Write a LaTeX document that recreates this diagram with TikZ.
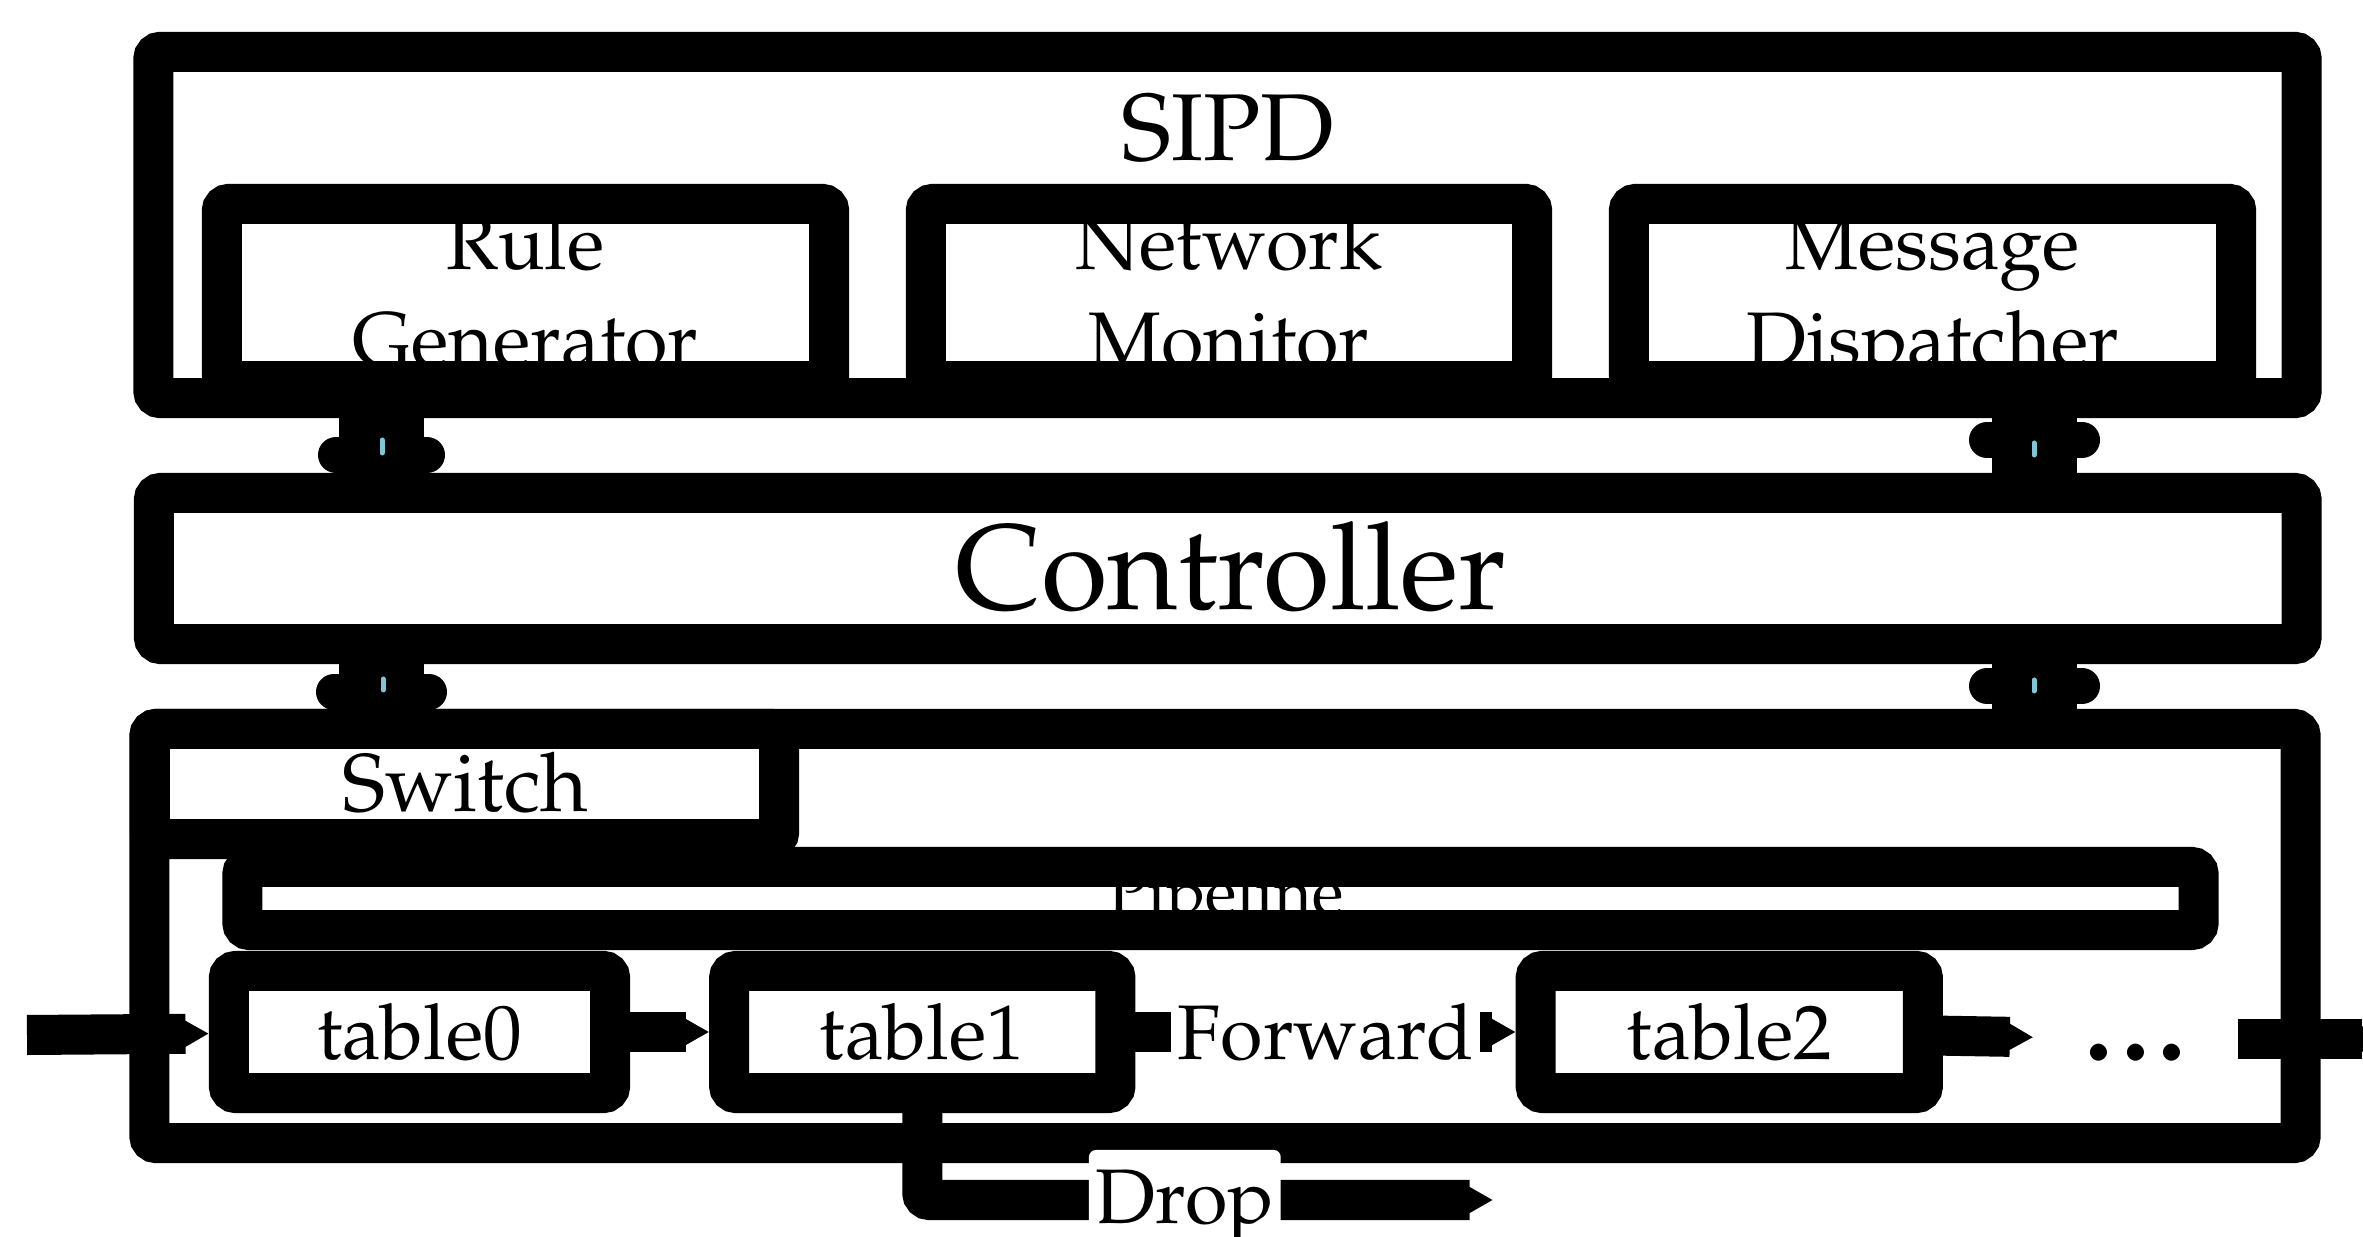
\documentclass[tikz,border=0pt]{standalone}
\usepackage[T1]{fontenc}
\usepackage{mathpazo}
\usetikzlibrary{arrows.meta,positioning}

\definecolor{paleblue}{RGB}{126,198,216}
\tikzset{
  box/.style={draw, line width=4mm, rounded corners=2pt, inner sep=0pt},
  lbl/.style={inner sep=0pt, align=center, font=\fontsize{22}{27.6}\selectfont},
  flow/.style={line width=4mm, -{Triangle[length=2.5mm,width=2.6mm]}},
  link/.style={line width=8.5mm},
  blob/.style={line width=3.6mm, line cap=round},
  tick/.style={draw=paleblue, line width=0.5mm, line cap=round},
}

\begin{document}
\begin{tikzpicture}[x=0.01cm, y=-0.01cm]
  \useasboundingbox (0,0) rectangle (2363,1237);

  % SIPD
  \node[box, minimum width=21.47cm, minimum height=3.46cm](sipd) at (1227.5,225){};
  \node[lbl, font=\fontsize{27}{32}\selectfont, anchor=base](sipdtxt) at (1228,161){SIPD};
  \node[box, minimum width=6.07cm, minimum height=1.77cm](rulegen) at (525.5,292.5){};
  \node[box, minimum width=6.06cm, minimum height=1.77cm](netmon) at (1229,292.5){};
  \node[box, minimum width=6.07cm, minimum height=1.77cm](msgdisp) at (1932.5,292.5){};
  \node[lbl, anchor=base](rgtxt) at (525.5,367){Rule\\Generator};
  \node[lbl, anchor=base](nmtxt) at (1229,367){Network\\Monitor};
  \node[lbl, anchor=base](mdtxt) at (1932.5,367){Message\\Dispatcher};

  % controller
  \node[box, minimum width=21.465cm, minimum height=1.51cm](ctrl) at (1227.75,568.5){};
  \node[lbl, font=\fontsize{34.5}{41}\selectfont, anchor=base](ctrltxt) at (1231,610){Controller};

  % switch
  \node[box, minimum width=21.5cm, minimum height=4.14cm](switch) at (1225,936){};
  \node[box, minimum width=6.29cm, minimum height=1.1cm](swlabel) at (464.5,784){};
  \node[lbl, font=\fontsize{23.3}{28}\selectfont, anchor=base](swtxt) at (465.5,812){Switch};
  \node[box, minimum width=19.55cm, minimum height=0.63cm](pipe) at (1220.5,898.5){};
  \node[lbl, font=\fontsize{18.5}{22}\selectfont, anchor=base](pipetxt) at (1226,915){Pipeline};

  \node[box, lbl, minimum width=3.81cm, minimum height=1.22cm](tab0) at (419.5,1032){table0};
  \node[box, lbl, minimum width=3.86cm, minimum height=1.22cm, right=0.79cm of tab0](tab1){table1};
  \node[box, lbl, minimum width=3.87cm, minimum height=1.22cm, right=3.8cm of tab1](tab2){table2};
  \node[lbl, font=\fontsize{42}{48}\selectfont, minimum width=2.03cm, text height=0.42cm, text depth=0cm](dots) at (2135.5,1039){...};

  \coordinate (in) at (27,1035);
  \coordinate (out) at (2385,1039);
  \coordinate (dropout) at (1493,1200);
  \coordinate (xl) at (381.5,0);
  \coordinate (xr) at (2034.5,0);

  \path[flow]
  (in) edge (tab0)
  (tab0) edge (tab1)
  (tab1) edge node[lbl, fill=white, inner xsep=0.07cm, inner ysep=0.05cm]{Forward} (tab2)
  (tab2) edge (dots)
  (dots) edge (out);

  \draw[flow, rounded corners=2pt] (tab1.south) |- node[lbl, pos=0.73, fill=white, inner xsep=0.07cm, inner ysep=0.07cm, text height=0.66cm, text depth=0.2cm]{Drop} (dropout);

  % links between the layers
  \draw[link] (sipd.south -| xl) -- (ctrl.north -| xl);
  \draw[link] (sipd.south -| xr) -- (ctrl.north -| xr);
  \draw[link] (ctrl.south -| xl) -- (switch.north -| xl);
  \draw[link] (ctrl.south -| xr) -- (switch.north -| xr);
  \draw[blob] (336,455) -- (427,455);
  \draw[blob] (1987,440) -- (2082,440);
  \draw[blob] (334,692) -- (429,692);
  \draw[blob] (1987,686) -- (2082,686);
  \draw[tick] (382,440) -- (382,453);
  \draw[tick] (2034,443) -- (2034,455);
  \draw[tick] (383,679) -- (383,690);
  \draw[tick] (2034,680) -- (2034,691);
\end{tikzpicture}
\end{document}
